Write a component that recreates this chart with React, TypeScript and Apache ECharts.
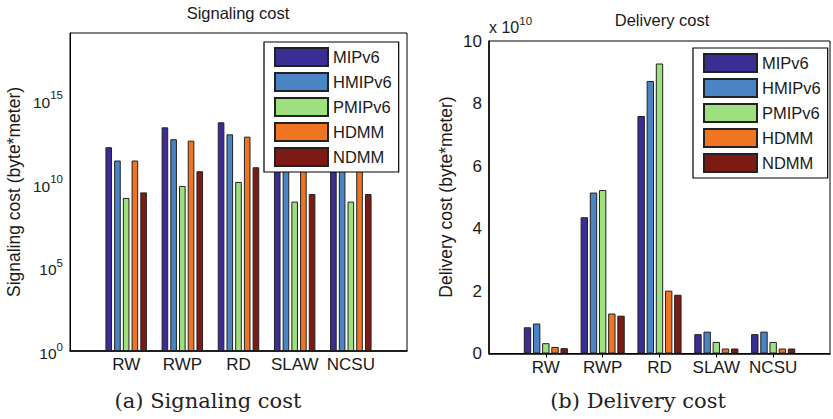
import React, { useEffect, useRef } from "react";
import * as echarts from "echarts";

const categories = ["RW", "RWP", "RD", "SLAW", "NCSU"];
const seriesNames = ["MIPv6", "HMIPv6", "PMIPv6", "HDMM", "NDMM"];
const seriesColors = ["#3a2d94", "#4a84c5", "#9fe07e", "#f07522", "#7d1a14"];

// Signaling cost (byte*meter), log scale
const sigMIPv6 = [1.5e12, 2.3e13, 4.6e13, 1.2e12, 1.2e12];
const sigHMIPv6 = [2.4e11, 4.5e12, 8.8e12, 2.4e11, 2.4e11];
const sigPMIPv6 = [1.4e9, 7.3e9, 1.26e10, 8.4e8, 8.4e8];
const sigHDMM = [2.4e11, 3.7e12, 6.4e12, 2.4e11, 2.4e11];
const sigNDMM = [3.0e9, 5.5e10, 9.5e10, 2.4e9, 2.4e9];

// Delivery cost (x 10^10 byte*meter)
const delMIPv6 = [0.84, 4.36, 7.6, 0.62, 0.62];
const delHMIPv6 = [0.96, 5.15, 8.72, 0.7, 0.7];
const delPMIPv6 = [0.33, 5.23, 9.28, 0.37, 0.37];
const delHDMM = [0.21, 1.28, 2.01, 0.16, 0.16];
const delNDMM = [0.17, 1.21, 1.88, 0.16, 0.16];

const sigTickExponents = [0, 5, 10, 15];
const delTickLabels = ["0", "2", "4", "6", "8", "10"];

const FONT = "Liberation Sans";
const SERIF = "DejaVu Serif";
const TXT = "#1a1a1a";

export default function App() {
  const ref = useRef<HTMLDivElement>(null);

  useEffect(() => {
    if (!ref.current) return;
    const chart = echarts.init(ref.current, undefined, { renderer: "svg" });

    const sigData = [sigMIPv6, sigHMIPv6, sigPMIPv6, sigHDMM, sigNDMM];
    const delData = [delMIPv6, delHMIPv6, delPMIPv6, delHDMM, delNDMM];
    const xCats = ["", ...categories, ""];
    const pad = (arr: number[]) => [null, ...arr, null];

    const catTickInterval = (i: number) => i >= 1 && i <= categories.length;

    const series: any[] = [];
    seriesNames.forEach((name, k) => {
      series.push({
        type: "bar",
        name,
        xAxisIndex: 0,
        yAxisIndex: 0,
        data: pad(sigData[k]),
        barWidth: 6.6,
        barGap: "32%",
        itemStyle: { color: seriesColors[k], borderColor: "#222", borderWidth: 1 },
      });
    });
    seriesNames.forEach((name, k) => {
      series.push({
        type: "bar",
        name,
        xAxisIndex: 2,
        yAxisIndex: 2,
        data: pad(delData[k]),
        barWidth: 7.4,
        barGap: "24%",
        itemStyle: { color: seriesColors[k], borderColor: "#222", borderWidth: 1 },
      });
    });

    const legendBase = {
      orient: "vertical",
      data: seriesNames,
      icon: "rect",
      itemWidth: 53,
      itemHeight: 18,
      itemGap: 5,
      padding: [5, 7, 5, 10],
      borderColor: "#000",
      borderWidth: 1.2,
      backgroundColor: "#fff",
      textStyle: { fontSize: 16.5, color: TXT, fontFamily: FONT },
      selectedMode: false,
      z: 10,
    };

    const txt = (text: string, x: number, y: number, size: number, family: string, rotation = 0, fill = TXT) => ({
      type: "text",
      x,
      y,
      rotation,
      style: { text, fontSize: size, fontFamily: family, fill, textAlign: "center", textVerticalAlign: "middle" },
    });

    const option: any = {
      animation: false,
      backgroundColor: "#fff",
      textStyle: { fontFamily: FONT },
      grid: [
        { left: 70, top: 33, width: 337, height: 318, show: true, borderColor: "#000", borderWidth: 1, backgroundColor: "transparent" },
        { left: 489, top: 41, width: 347, height: 312.5, show: true, borderColor: "#000", borderWidth: 1, backgroundColor: "transparent" },
      ],
      xAxis: [
        {
          type: "category", gridIndex: 0, data: xCats, boundaryGap: false, position: "bottom",
          axisLine: { lineStyle: { color: "#000", width: 1.5 } },
          axisTick: { inside: true, length: 4, interval: catTickInterval, lineStyle: { color: "#000" } },
          axisLabel: { fontSize: 17, color: TXT, fontFamily: FONT, margin: 5, interval: 0 },
          splitLine: { show: false },
        },
        {
          type: "category", gridIndex: 0, data: xCats, boundaryGap: false, position: "top",
          axisLine: { show: false }, axisTick: { show: false }, axisLabel: { show: false }, splitLine: { show: false },
        },
        {
          type: "category", gridIndex: 1, data: xCats, boundaryGap: false, position: "bottom",
          axisLine: { lineStyle: { color: "#000", width: 1.5 } },
          axisTick: { inside: true, length: 4, interval: catTickInterval, lineStyle: { color: "#000" } },
          axisLabel: { fontSize: 17, color: TXT, fontFamily: FONT, margin: 5, interval: 0 },
          splitLine: { show: false },
        },
        {
          type: "category", gridIndex: 1, data: xCats, boundaryGap: false, position: "top",
          axisLine: { show: false },
          axisTick: { inside: true, length: 4, interval: catTickInterval, lineStyle: { color: "#000" } },
          axisLabel: { show: false }, splitLine: { show: false },
        },
      ],
      yAxis: [
        {
          type: "log", logBase: 10, gridIndex: 0, min: 1, max: 1e19, interval: 5, position: "left",
          axisLine: { show: true, lineStyle: { color: "#000" } },
          axisTick: { inside: true, length: 4, lineStyle: { color: "#000" } },
          splitLine: { show: false },
          axisLabel: {
            margin: 7,
            showMaxLabel: false,
            formatter: (v: number) => {
              const e = Math.round(Math.log10(v));
              if (!sigTickExponents.includes(e)) return "";
              return `{b|10}{s|${e}}`;
            },
            rich: {
              b: { fontSize: 15.5, color: TXT, fontFamily: FONT, verticalAlign: "bottom" },
              s: { fontSize: 11.5, color: TXT, fontFamily: FONT, verticalAlign: "bottom", padding: [0, 0, 9, 0] },
            },
          },
        },
        {
          type: "log", logBase: 10, gridIndex: 0, min: 1, max: 1e19, interval: 5, position: "right",
          axisLine: { show: false },
          axisTick: { inside: true, length: 4, lineStyle: { color: "#000" } },
          axisLabel: { show: false }, splitLine: { show: false },
        },
        {
          type: "value", gridIndex: 1, min: 0, max: 10, interval: 2, position: "left",
          axisLine: { show: true, lineStyle: { color: "#000", width: 1.5 } },
          axisTick: { inside: true, length: 4, lineStyle: { color: "#000" } },
          splitLine: { show: false },
          axisLabel: {
            fontSize: 17, color: TXT, fontFamily: FONT, margin: 7,
            formatter: (v: number) => delTickLabels[Math.round(v / 2)] ?? "",
          },
        },
        {
          type: "value", gridIndex: 1, min: 0, max: 10, interval: 2, position: "right",
          axisLine: { show: false },
          axisTick: { inside: true, length: 4, lineStyle: { color: "#000" } },
          axisLabel: { show: false }, splitLine: { show: false },
        },
      ],
      legend: [
        { ...legendBase, left: 264, top: 42 },
        { ...legendBase, left: 693, top: 48 },
      ],
      series,
      graphic: [
        txt("Signaling cost", 238, 13, 16.5, FONT),
        txt("Delivery cost", 662, 20, 16.5, FONT),
        txt("Signaling cost (byte*meter)", 14, 192, 17.5, FONT, Math.PI / 2),
        txt("Delivery cost (byte*meter)", 446, 197, 17.5, FONT, Math.PI / 2),
        {
          type: "text", x: 489, y: 25,
          style: {
            text: "{b|x 10}{s|10}",
            textVerticalAlign: "middle",
            rich: {
              b: { fontSize: 16, fill: TXT, fontFamily: FONT, verticalAlign: "bottom" },
              s: { fontSize: 11.5, fill: TXT, fontFamily: FONT, verticalAlign: "bottom", padding: [0, 0, 9, 0] },
            },
          },
        },
        txt("(a) Signaling cost", 208, 401, 21, SERIF, 0, "#222"),
        txt("(b) Delivery cost", 638, 401, 21, SERIF, 0, "#222"),
      ],
    };

    chart.setOption(option);
    return () => chart.dispose();
  }, []);

  return (
    <div
      ref={ref}
      style={{ position: "absolute", left: 0, top: 0, width: 833, height: 419, background: "#fff" }}
    />
  );
}
